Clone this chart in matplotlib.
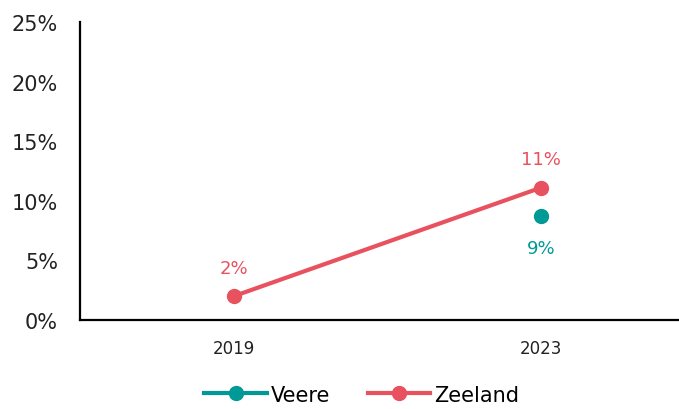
import matplotlib.pyplot as plt
import numpy as np
from matplotlib.ticker import FuncFormatter

# Share of households per year
years = ['2019', '2023']
veere = [np.nan, 8.7]
zeeland = [2.0, 11.1]

teal = '#009A96'
red = '#E8525F'

fig = plt.figure(figsize=(6.79, 4.10), dpi=100)
ax = fig.add_axes([0.118, 0.217, 0.905, 0.727])

x = np.arange(len(years))
ax.plot(x, veere, color=teal, lw=3, marker='o', ms=10, label='Veere')
ax.plot(x, zeeland, color=red, lw=3, marker='o', ms=10, label='Zeeland')

# value labels: Zeeland above the points, Veere below
for xi, v in zip(x, zeeland):
    if not np.isnan(v):
        ax.annotate(f'{v:.0f}%', (xi, v), xytext=(0, 14), textcoords='offset points',
                    ha='center', va='bottom', color=red, fontsize=13)
for xi, v in zip(x, veere):
    if not np.isnan(v):
        ax.annotate(f'{v:.0f}%', (xi, v), xytext=(0, -16), textcoords='offset points',
                    ha='center', va='top', color=teal, fontsize=13)

ax.set_xlim(-0.5, 1.5)
ax.set_ylim(0, 25)
ax.set_xticks(x)
ax.set_xticklabels(years, fontsize=12)
ax.set_yticks(range(0, 26, 5))
ax.yaxis.set_major_formatter(FuncFormatter(lambda v, p: f'{v:.0f}%'))
ax.tick_params(axis='y', labelsize=15, length=0, pad=16, colors='#222222')
ax.tick_params(axis='x', length=0, pad=14, colors='#222222')

for s in ['top', 'right']:
    ax.spines[s].set_visible(False)
ax.spines['left'].set_linewidth(1.6)
ax.spines['bottom'].set_linewidth(1.6)

fig.legend(loc='lower center', bbox_to_anchor=(0.533, -0.035), ncol=2, frameon=False,
           fontsize=15, handlelength=3, handletextpad=0.2, columnspacing=1.8)

fig.savefig('out.png', dpi=100)
